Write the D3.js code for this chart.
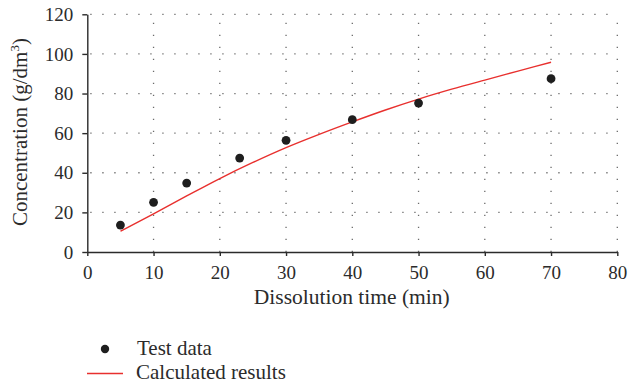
<!DOCTYPE html>
<html>
<head>
<meta charset="utf-8">
<script src="https://cdn.jsdelivr.net/npm/d3@7"></script>
<style>
  html, body { margin: 0; padding: 0; background: #fff; }
  svg { display: block; }
  text { font-family: "Liberation Serif", "DejaVu Serif", serif; fill: #2b2b2b; }
</style>
</head>
<body>
<svg id="chart" width="630" height="387"></svg>
<script>
// Measured concentration during dissolution
const testTime = [5, 10, 15, 23, 30, 40, 50, 70];
const testConc = [13.6, 25.1, 34.8, 47.4, 56.4, 66.8, 75.2, 87.5];

// Model curve
const calcTime = [5, 10, 15, 20, 25, 30, 35, 40, 45, 50, 55, 60, 65, 70];
const calcConc = [10.5, 19.3, 28.3, 37.1, 45.2, 52.7, 59.4, 65.7, 71.7, 77.2, 82.2, 86.8, 91.3, 95.8];

const xTicks = [0, 10, 20, 30, 40, 50, 60, 70, 80];
const yTicks = [0, 20, 40, 60, 80, 100, 120];

const legendLabels = ["Test data", "Calculated results"];

const svg = d3.select("#chart");
const x = d3.scaleLinear().domain([0, 80]).range([87.3, 617.3]);
const y = d3.scaleLinear().domain([0, 120]).range([252, 14.3]);

// dotted grid
const grid = svg.append("g").attr("stroke", "#6b6b6b").attr("stroke-width", 1.3)
  .attr("stroke-dasharray", "1.3,10.7");
grid.selectAll(".gx").data(xTicks.filter(d => d > 0)).join("line")
  .attr("x1", d => x(d)).attr("x2", d => x(d))
  .attr("y1", y(0)).attr("y2", y(120));
grid.selectAll(".gy").data(yTicks.filter(d => d > 0)).join("line")
  .attr("x1", x(0) + 3).attr("x2", x(80))
  .attr("y1", d => y(d)).attr("y2", d => y(d));

// axes
const xAxis = svg.append("g").attr("transform", `translate(0,${y(0)})`)
  .call(d3.axisBottom(x).tickValues(xTicks).tickSize(4).tickSizeOuter(0).tickPadding(10));
const yAxis = svg.append("g").attr("transform", `translate(${x(0)},0)`)
  .call(d3.axisLeft(y).tickValues(yTicks).tickSize(5).tickSizeOuter(0).tickPadding(9));
[xAxis, yAxis].forEach(a => {
  a.select(".domain").attr("stroke", "#2b2b2b").attr("stroke-width", 1.4);
  a.selectAll(".tick line").attr("stroke", "#2b2b2b").attr("stroke-width", 1.4);
  a.selectAll(".tick text").attr("font-family", "Liberation Serif, serif")
    .attr("font-size", 19).attr("fill", "#2b2b2b");
});

// axis titles
svg.append("text").attr("x", x(40) - 0.5).attr("y", 304)
  .attr("text-anchor", "middle").attr("font-size", 21.5)
  .text("Dissolution time (min)");
const yl = svg.append("text")
  .attr("transform", "translate(27,132) rotate(-90)")
  .attr("text-anchor", "middle").attr("font-size", 21);
yl.append("tspan").text("Concentration (g/dm");
yl.append("tspan").attr("font-size", 13.5).attr("dy", -8.5).text("3");
yl.append("tspan").attr("dy", 8.5).text(")");

// model curve
const line = d3.line().curve(d3.curveMonotoneX)
  .x((d, i) => x(calcTime[i])).y(d => y(d));
svg.append("path").datum(calcConc).attr("d", line)
  .attr("fill", "none").attr("stroke", "#e8302e").attr("stroke-width", 1.4);

// measured points
svg.selectAll(".pt").data(testConc).join("circle")
  .attr("cx", (d, i) => x(testTime[i])).attr("cy", d => y(d))
  .attr("r", 4.4).attr("fill", "#1e1e1e");

// legend
const lg = svg.append("g");
lg.append("circle").attr("cx", 105).attr("cy", 349).attr("r", 4.2).attr("fill", "#1e1e1e");
lg.append("text").attr("x", 137).attr("y", 355).attr("font-size", 21).text(legendLabels[0]);
lg.append("line").attr("x1", 87).attr("x2", 123).attr("y1", 373.5).attr("y2", 373.5)
  .attr("stroke", "#e8302e").attr("stroke-width", 1.3);
lg.append("text").attr("x", 136).attr("y", 379).attr("font-size", 21).text(legendLabels[1]);
</script>
</body>
</html>
